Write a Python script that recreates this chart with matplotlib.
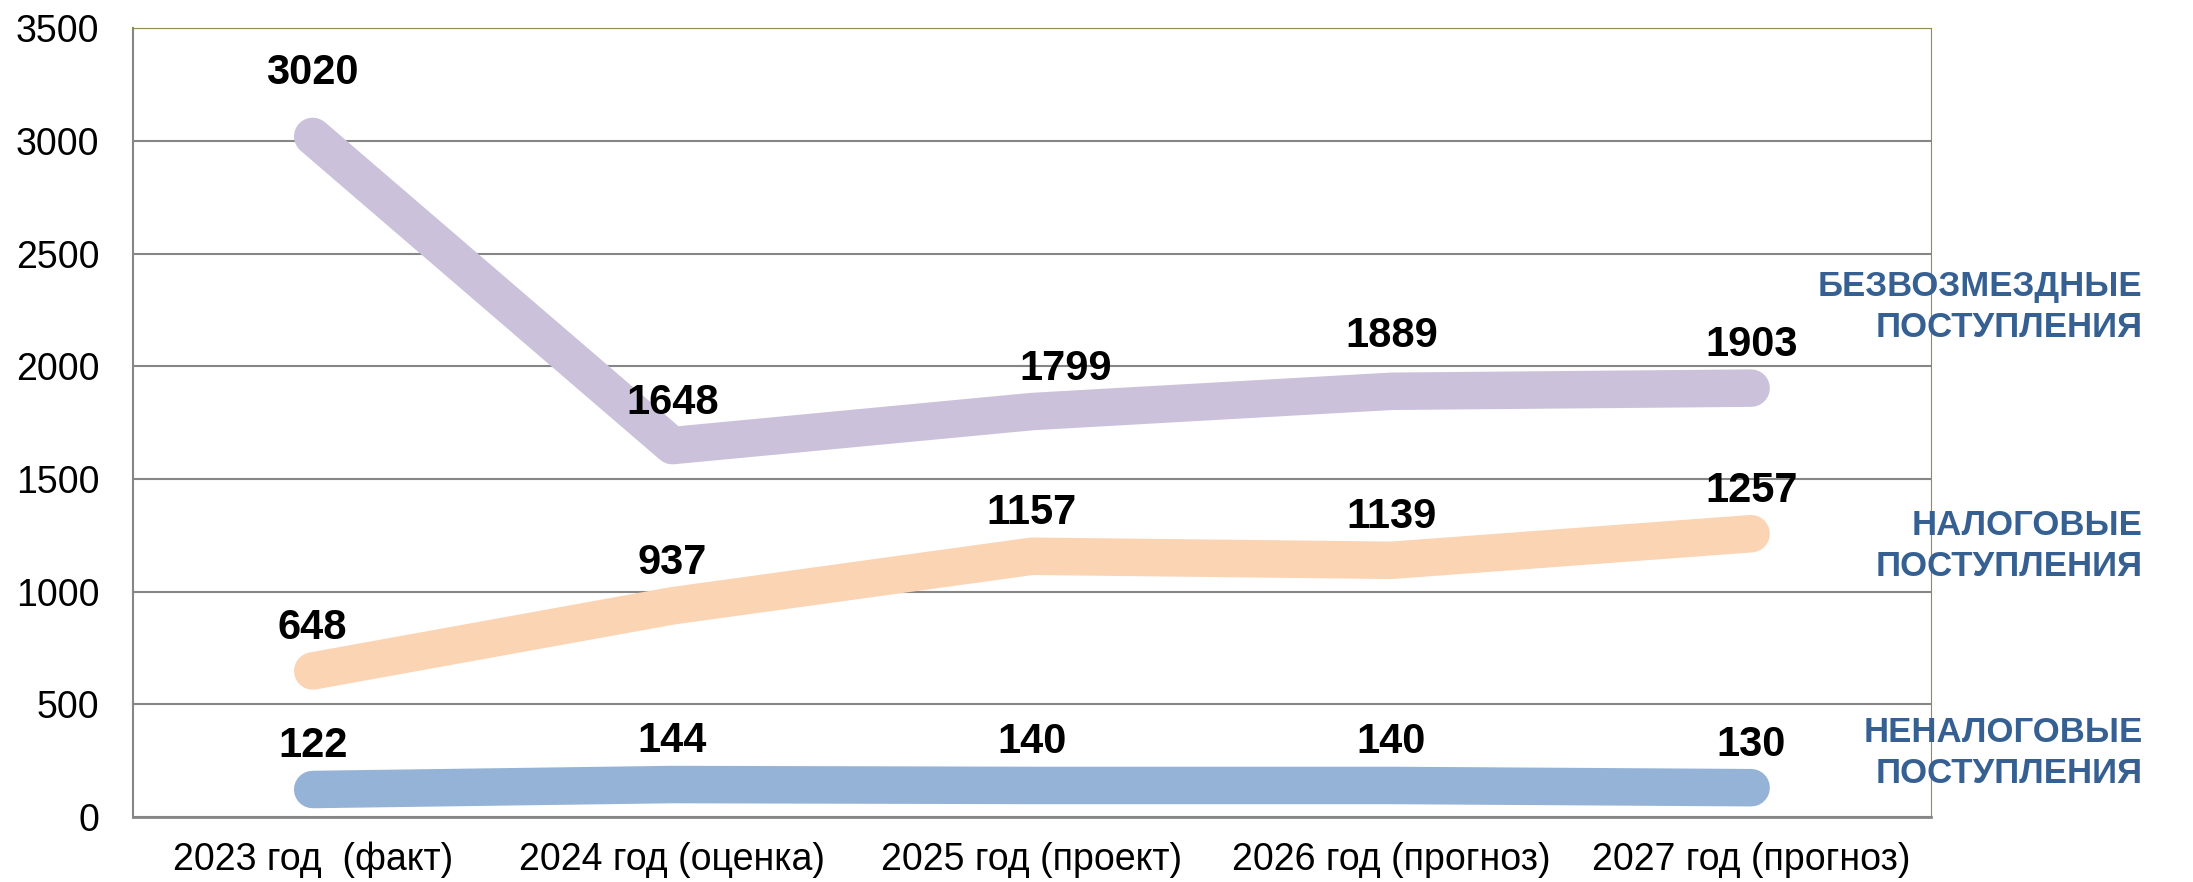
import matplotlib
matplotlib.use("Agg")
import matplotlib.pyplot as plt

# data
years = ['2023 год  (факт)', '2024 год (оценка)', '2025 год (проект)',
         '2026 год (прогноз)', '2027 год (прогноз)']
bezvozm = [3020, 1648, 1799, 1889, 1903]
nalog = [648, 937, 1157, 1139, 1257]
nenalog = [122, 144, 140, 140, 130]

plt.rcParams['font.family'] = ['Liberation Sans', 'DejaVu Sans']

fig = plt.figure(figsize=(21.93, 8.82), dpi=100)
ax = fig.add_axes([0.0606, 0.0737, 0.8199, 0.8943])

x = range(len(years))
series = [
    (bezvozm, '#CCC1DA'),
    (nalog, '#FBD4B4'),
    (nenalog, '#95B3D7'),
]
for vals, col in series:
    ax.plot(x, vals, color=col, lw=27, solid_capstyle='round',
            solid_joinstyle='round', zorder=3)
    for i, v in enumerate(vals):
        dx, dy = 0, 31
        # a few labels sit a little off in the original
        if v == 3020:
            dy = 46
        elif v == 1889:
            dy = 40
        elif v == 1799:
            dx = 24
        ax.annotate(str(v), (i, v), xytext=(dx, dy), textcoords='offset points',
                    ha='center', va='center', fontsize=30, fontweight='bold',
                    color='black', zorder=4)

ax.set_xlim(-0.5, len(years) - 0.5)
ax.set_ylim(0, 3500)
ax.set_yticks(range(0, 3501, 500))
ax.set_xticks(list(x))
ax.set_xticklabels(years)
ax.tick_params(axis='both', length=0, labelsize=27)
ax.tick_params(axis='y', pad=24)
ax.tick_params(axis='x', pad=18)

ax.yaxis.grid(True, color='#868686', lw=1.5, zorder=1)
ax.set_axisbelow(True)
ax.spines['left'].set_color('#868686')
ax.spines['bottom'].set_color('#868686')
ax.spines['left'].set_linewidth(1.5)
ax.spines['bottom'].set_linewidth(2)
ax.spines['top'].set_color('#948A54')
ax.spines['right'].set_color('#948A54')

lab_col = '#376092'
fig.text(0.977, 0.652, 'БЕЗВОЗМЕЗДНЫЕ\nПОСТУПЛЕНИЯ', ha='right', va='center',
         fontsize=25, fontweight='bold', color=lab_col, linespacing=1.3)
fig.text(0.977, 0.381, 'НАЛОГОВЫЕ\nПОСТУПЛЕНИЯ', ha='right', va='center',
         fontsize=25, fontweight='bold', color=lab_col, linespacing=1.3)
fig.text(0.977, 0.146, 'НЕНАЛОГОВЫЕ\nПОСТУПЛЕНИЯ', ha='right', va='center',
         fontsize=25, fontweight='bold', color=lab_col, linespacing=1.3)

fig.savefig('out.png', dpi=100)
